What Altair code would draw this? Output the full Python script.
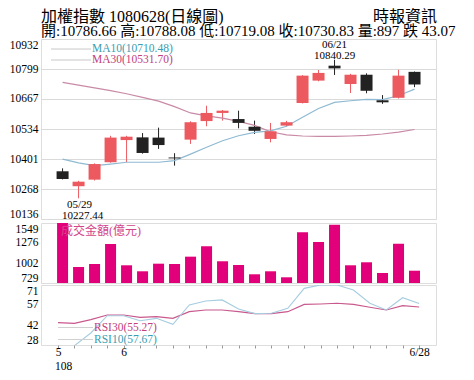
import altair as alt
import pandas as pd

# ---------------- data ----------------
dates = ["05/28", "05/29", "05/30", "05/31", "06/03", "06/04", "06/05", "06/06",
         "06/10", "06/11", "06/12", "06/13", "06/14", "06/17", "06/18", "06/19",
         "06/20", "06/21", "06/24", "06/25", "06/26", "06/27", "06/28"]
opens = [10347, 10281, 10310, 10387, 10485, 10497, 10496, 10408, 10487, 10569, 10605, 10578,
         10544, 10490, 10549, 10649, 10748, 10814, 10733, 10774, 10661, 10672, 10786.66]
highs = [10360, 10305, 10382, 10504, 10504, 10516, 10540, 10427, 10568, 10637, 10618, 10615,
         10571, 10561, 10570, 10772, 10795, 10840.29, 10778, 10780, 10684, 10796, 10788.08]
lows = [10311, 10227.44, 10306, 10385, 10387, 10425, 10446, 10372, 10468, 10546, 10571, 10537,
        10512, 10475, 10545, 10647, 10745, 10773, 10693, 10692, 10645, 10669, 10719.08]
closes = [10313, 10301, 10379, 10496, 10500, 10428, 10463, 10404, 10564, 10605, 10615, 10561,
          10526, 10524, 10564, 10770, 10782, 10802, 10774, 10703, 10652, 10770, 10730.83]
volumes = [1549, 948, 989, 1262, 971, 889, 993, 989, 1089, 1230, 1026, 975,
           848, 889, 807, 1422, 1289, 1526, 971, 1012, 866, 1266, 897]
ma10 = [10401, 10384, 10372, 10379, 10387, 10387, 10387, 10394, 10423, 10453, 10482, 10504,
        10519, 10526, 10546, 10586, 10625, 10652, 10659, 10665, 10664, 10681, 10710.48]
ma30 = [10740, 10728, 10716, 10704, 10690, 10674, 10657, 10633, 10605, 10592, 10582, 10568,
        10550, 10522, 10508, 10503, 10501, 10501, 10503, 10506, 10512, 10520, 10531.70]
rsi30 = [44.0, 43.5, 46.2, 49.5, 49.5, 47.8, 48.3, 47.1, 51.9, 53.1, 53.1, 51.9,
         50.5, 50.5, 51.9, 57.1, 57.4, 57.9, 57.1, 55.0, 53.1, 56.2, 55.27]
rsi10 = [20.0, 27.5, 36.6, 49.0, 49.0, 45.4, 47.1, 42.8, 56.7, 59.5, 60.3, 53.8,
         50.5, 50.7, 54.3, 68.6, 71.0, 71.0, 67.4, 57.9, 53.1, 61.9, 57.67]

price_ticks = [10136, 10268, 10401, 10534, 10667, 10799, 10932]
vol_ticks = [729, 1002, 1276, 1549]
rsi_ticks = [28, 42, 57, 71]
x_labels = {0: "5", 4: "6", 22: "6/28"}
year_label = "108"

title_text = "加權指數 1080628(日線圖)"
sub_text = "開:10786.66 高:10788.08 低:10719.08 收:10730.83 量:897 跌 43.07"
source_text = "時報資訊"
ma_legend = ["MA10(10710.48)", "MA30(10531.70)"]
rsi_legend = ["RSI30(55.27)", "RSI10(57.67)"]
vol_label = "成交金額(億元)"

# ---------------- styling ----------------
FONT = "Liberation Serif, Noto Sans CJK TC"
W = 395
RED = "#e5121b"
BLACK = "#111111"
PINK = "#e2007a"
TEAL = "#3a9db0"
MAUVE = "#c2407d"
MA10_LINE = "#8fbad2"
MA30_LINE = "#c88aa6"

n = len(dates)
df = pd.DataFrame({
    "i": list(range(n)), "date": dates, "open": opens, "high": highs, "low": lows,
    "close": closes, "vol": volumes, "ma10": ma10, "ma30": ma30,
    "rsi30": rsi30, "rsi10": rsi10,
})
df["dir"] = ["up" if c >= o else "down" for o, c in zip(opens, closes)]

xs = alt.Scale(domain=[-1.036, 23.03], nice=False, zero=False)
X = alt.X("i:Q", scale=xs, axis=None)

axis_common = dict(title=None, domain=False, ticks=False, labelFlush=True, labelFont=FONT,
                   labelFontSize=11.5, labelColor="#000", labelPadding=3, format="d",
                   labelOverlap=False)

ps = alt.Scale(domain=[price_ticks[0], price_ticks[-1]], nice=False, zero=False)
p_axis = alt.Axis(values=price_ticks, grid=True, gridColor="#dadada", **axis_common)


def PY(field):
    return alt.Y(field, type="quantitative", scale=ps, axis=p_axis)


base = alt.Chart(df)
body_col = alt.Color("dir:N", scale=alt.Scale(domain=["up", "down"], range=[RED, BLACK]), legend=None)
wick_col = alt.Color("dir:N", scale=alt.Scale(domain=["up", "down"], range=["#ec5a60", "#222222"]), legend=None)

wicks = base.mark_rule(strokeWidth=1).encode(x=X, y=PY("low"), y2="high:Q", color=wick_col)
bodies = base.mark_bar(size=12).encode(x=X, y=PY("open"), y2="close:Q", color=body_col)
l_ma10 = base.mark_line(color=MA10_LINE, strokeWidth=1.2).encode(x=X, y=PY("ma10"))
l_ma30 = base.mark_line(color=MA30_LINE, strokeWidth=1.2).encode(x=X, y=PY("ma30"))

hi_i = highs.index(max(highs))
lo_i = lows.index(min(lows))
ann = pd.DataFrame({
    "i": [hi_i, hi_i, lo_i, lo_i],
    "p": [highs[hi_i], highs[hi_i], lows[lo_i], lows[lo_i]],
    "t": [dates[hi_i], f"{highs[hi_i]:.2f}", dates[lo_i], f"{lows[lo_i]:.2f}"],
})
ann_top_date = alt.Chart(ann.iloc[[0]]).mark_text(font=FONT, fontSize=11, dy=-15, color="#000").encode(
    x=X, y=PY("p"), text="t:N")
ann_top_val = alt.Chart(ann.iloc[[1]]).mark_text(font=FONT, fontSize=11, dy=-4, color="#000").encode(
    x=X, y=PY("p"), text="t:N")
ann_bot_date = alt.Chart(ann.iloc[[2]]).mark_text(font=FONT, fontSize=11, dy=7, dx=1, color="#000").encode(
    x=X, y=PY("p"), text="t:N")
ann_bot_val = alt.Chart(ann.iloc[[3]]).mark_text(font=FONT, fontSize=11, dy=18, dx=4, color="#000").encode(
    x=X, y=PY("p"), text="t:N")

leg_df = pd.DataFrame({"t": ma_legend, "c": [TEAL, MAUVE], "yy": [10, 21]})
ma_leg_lines = alt.Chart(leg_df).mark_rule(color="#c8c8c8", strokeWidth=1).encode(
    x=alt.value(10), x2=alt.value(50), y=alt.Y("yy:Q", scale=None))
ma_leg_text = alt.Chart(leg_df).mark_text(align="left", baseline="middle", font=FONT, fontSize=11.5).encode(
    x=alt.value(51), y=alt.Y("yy:Q", scale=None), text="t:N", color=alt.Color("c:N", scale=None))

title_df = pd.DataFrame({"t": [title_text]})
sub_df = pd.DataFrame({"t": [sub_text]})
src_df = pd.DataFrame({"t": [source_text]})
t1 = alt.Chart(title_df).mark_text(align="left", baseline="middle", font=FONT, fontSize=16, color="#000").encode(
    x=alt.value(0), y=alt.value(-22.5), text="t:N")
t2 = alt.Chart(sub_df).mark_text(align="left", baseline="middle", font=FONT, fontSize=15, color="#000").encode(
    x=alt.value(0), y=alt.value(-8), text="t:N")
t3 = alt.Chart(src_df).mark_text(align="right", baseline="middle", font=FONT, fontSize=16, color="#000").encode(
    x=alt.value(396), y=alt.value(-22.5), text="t:N")

main = alt.layer(wicks, l_ma30, l_ma10, bodies, ann_top_date, ann_top_val, ann_bot_date, ann_bot_val,
                 ma_leg_lines, ma_leg_text, t1, t2, t3).properties(width=W, height=180)

# ---------------- volume ----------------
vs = alt.Scale(domain=[vol_ticks[0], vol_ticks[-1]], nice=False, zero=False)
vol_bars = base.mark_bar(size=11, color=PINK, clip=True).encode(
    x=X,
    y=alt.Y("vol:Q", scale=vs, axis=alt.Axis(values=vol_ticks, grid=False, **axis_common)),
    y2=alt.value(60))
vl_df = pd.DataFrame({"t": [vol_label]})
vol_text = alt.Chart(vl_df).mark_text(align="left", baseline="middle", font=FONT, fontSize=12, color="#d4458a").encode(
    x=alt.value(20), y=alt.value(8), text="t:N")
volume = alt.layer(vol_bars, vol_text).properties(width=W, height=60)

# ---------------- RSI ----------------
rs = alt.Scale(domain=[rsi_ticks[0], rsi_ticks[-1]], nice=False, zero=False)
r_axis = alt.Axis(values=rsi_ticks, grid=False, **axis_common)
label_expr = " : ".join([f"datum.value == {k} ? '{v}'" for k, v in x_labels.items()]) + " : ''"
X_rsi = alt.X("i:Q", scale=xs, axis=alt.Axis(
    values=list(range(n)), title=None, domain=False, grid=False, ticks=True, tickSize=3,
    tickColor="#999", labelExpr=label_expr, labelFont=FONT, labelFontSize=11.5, labelColor="#000",
    labelPadding=-2, labelOverlap=False))
l_rsi30 = base.mark_line(color="#c8588d", strokeWidth=1.1, clip=True).encode(
    x=X_rsi, y=alt.Y("rsi30:Q", scale=rs, axis=r_axis))
l_rsi10 = base.mark_line(color="#a6cde0", strokeWidth=1.1, clip=True).encode(
    x=X_rsi, y=alt.Y("rsi10:Q", scale=rs, axis=r_axis))
rleg_df = pd.DataFrame({"t": rsi_legend, "c": [MAUVE, TEAL], "yy": [42.5, 54.5]})
rsi_leg_lines = alt.Chart(rleg_df).mark_rule(color="#d0d0d0", strokeWidth=1).encode(
    x=alt.value(17), x2=alt.value(52), y=alt.Y("yy:Q", scale=None))
rsi_leg_text = alt.Chart(rleg_df).mark_text(align="left", baseline="middle", font=FONT, fontSize=11.5).encode(
    x=alt.value(53), y=alt.Y("yy:Q", scale=None), text="t:N", color=alt.Color("c:N", scale=None))
yr_df = pd.DataFrame({"i": [0], "t": [year_label]})
yr_text = alt.Chart(yr_df).mark_text(align="left", baseline="middle", font=FONT, fontSize=11.5, dx=-3, color="#000").encode(
    x=X_rsi, y=alt.value(82), text="t:N")
rsi = alt.layer(l_rsi30, l_rsi10, rsi_leg_lines, rsi_leg_text, yr_text).properties(width=W, height=60)

chart = alt.vconcat(main, volume, rsi, spacing=0).properties(
    padding={"left": 0, "top": 0, "right": 0, "bottom": 0}
).configure_view(stroke="#9a9a9a", strokeWidth=1).configure_axis(
    labelOverlap=False
).configure(background="white")

chart.save("out.html", embed_options={"renderer": "svg", "actions": False})
